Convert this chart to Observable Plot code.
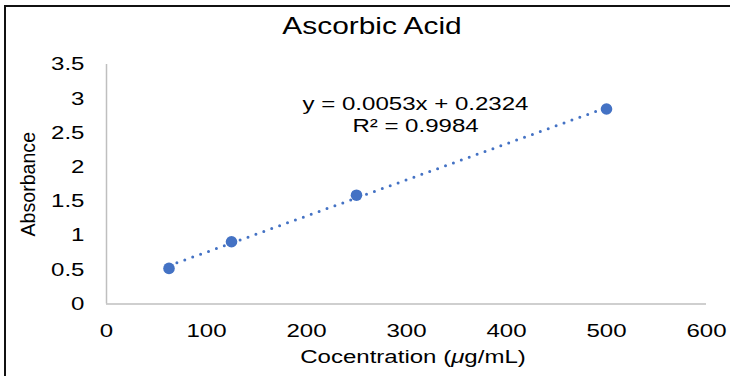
<!DOCTYPE html>
<html><head><meta charset="utf-8">
<script src="https://cdn.jsdelivr.net/npm/d3@7"></script>
<script src="https://cdn.jsdelivr.net/npm/@observablehq/plot@0.6"></script>
<style>
html,body{margin:0;padding:0;background:#fff;}
#wrap{position:relative;width:730px;height:376px;overflow:hidden;background:#fff;}
#wrap svg{display:block;}
#frame{position:absolute;left:4px;top:5px;width:800px;height:400px;border-left:2px solid #111;border-top:2px solid #111;pointer-events:none;}
</style></head><body>
<div id="wrap"><div id="frame"></div></div>
<script>
const title = "Ascorbic Acid";
const concentration = [62.5, 125, 250, 500];
const absorbance = [0.52, 0.91, 1.59, 2.85];
const xTicks = [0, 100, 200, 300, 400, 500, 600];
const yTicks = [0, 0.5, 1, 1.5, 2, 2.5, 3, 3.5];
const yTickLabels = ["0", "0.5", "1", "1.5", "2", "2.5", "3", "3.5"];
const xLabel = "Cocentration (μg/mL)";
const yLabel = "Absorbance";
const equation = ["y = 0.0053x + 0.2324", "R² = 0.9984"];
const equationAt = [{x: 309, y: 2.78}];

const data = concentration.map((c, i) => ({c, a: absorbance[i]}));
const blue = "#4472C4";
const axisGray = "#bfbfbf";
const font = "'Liberation Sans', Arial, sans-serif";
const STRETCH = 1.3;

const chart = Plot.plot({
  width: 730, height: 376,
  marginLeft: 106, marginRight: 24, marginTop: 64, marginBottom: 72.5,
  style: {fontFamily: font, fontSize: "18.5px", color: "#000", background: "transparent", overflow: "visible"},
  x: {domain: [0, 600], ticks: xTicks, tickSize: 0, tickPadding: 20, label: null},
  y: {domain: [0, 3.5], ticks: yTicks, tickSize: 0, tickPadding: 22, label: null,
      tickFormat: d => yTickLabels[yTicks.indexOf(d)]},
  marks: [
    Plot.ruleY([0], {stroke: axisGray, strokeWidth: 1.5}),
    Plot.ruleX([0], {stroke: axisGray, strokeWidth: 1.5}),
    Plot.linearRegressionY(data, {x: "c", y: "a", ci: 0, stroke: blue, strokeWidth: 3,
      strokeDasharray: "0 8.4", strokeLinecap: "round"}),
    Plot.dot(data, {x: "c", y: "a", r: 5.8, fill: blue, stroke: "none"}),
    Plot.text(equationAt, {x: "x", y: "y", text: () => equation.join("\n"), lineHeight: 1.19,
      textAnchor: "middle", lineAnchor: "middle", fontSize: 18.5, fill: "#000"}),
    Plot.text([title], {text: d => d, frameAnchor: "top", textAnchor: "middle", lineAnchor: "middle",
      dx: -34.5, dy: -38, fontSize: 23, fill: "#000"}),
    Plot.text([xLabel], {text: d => d, frameAnchor: "bottom", textAnchor: "middle", lineAnchor: "middle",
      dx: 6.5, dy: 53.5, fontSize: 18.5, fill: "#000"}),
    Plot.text([yLabel], {text: d => d, frameAnchor: "left", textAnchor: "middle", lineAnchor: "middle",
      rotate: -90, dx: -78, fontSize: 19.6, fill: "#000"})
  ]
});

const wrap = document.getElementById("wrap");
wrap.insertBefore(chart, wrap.firstChild);
const svg = chart.tagName.toLowerCase() === "svg" ? chart : chart.querySelector("svg");

// italic mu in x label
d3.select(svg).selectAll("text").filter(function () {
  return this.textContent === xLabel;
}).each(function () {
  const parts = xLabel.split("μ");
  const s = d3.select(this);
  s.text(null);
  s.append("tspan").text(parts[0]);
  s.append("tspan").attr("font-style", "italic").text("μ");
  s.append("tspan").text(parts[1]);
});

// horizontal glyph widening of the reference rendering
d3.select(svg).selectAll("text").each(function () {
  const t = this.getAttribute("transform") || "";
  if (t.includes("rotate")) return;
  if (t) {
    this.setAttribute("transform", t + ` scale(${STRETCH},1)`);
  } else {
    const x = +(this.getAttribute("x") || 0), y = +(this.getAttribute("y") || 0);
    this.removeAttribute("x"); this.removeAttribute("y");
    this.setAttribute("transform", `translate(${x},${y}) scale(${STRETCH},1)`);
  }
});
</script>
</body></html>
